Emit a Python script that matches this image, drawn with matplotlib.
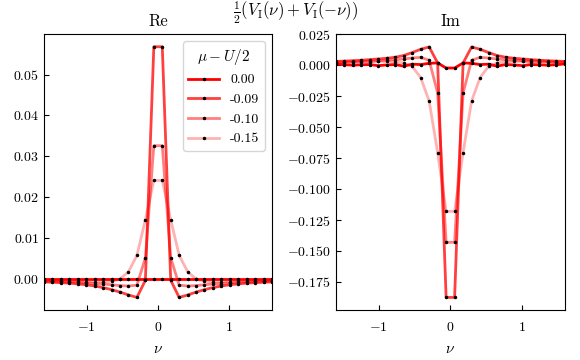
import numpy as np
import matplotlib
matplotlib.use("Agg")
import matplotlib.pyplot as plt

plt.rcParams['font.family'] = 'serif'
plt.rcParams['font.serif'] = ['cmr10']
plt.rcParams['mathtext.fontset'] = 'cm'
plt.rcParams['axes.formatter.use_mathtext'] = True
plt.rcParams['axes.unicode_minus'] = True

# Matsubara frequencies (beta ~ 53)
beta = 53.0
n = np.arange(0, 15)
nu_pos = (2 * n + 1) * np.pi / beta

labels = ["0.00", "-0.09", "-0.10", "-0.15"]
alphas = [1.0, 0.75, 0.5, 0.3]

# real part, positive frequencies (symmetric in nu)
re_000 = [0.0, 0.0, 0.0, 0.0, 0.0, 0.0, 0.0, 0.0, 0.0, 0.0, 0.0, 0.0, 0.0, 0.0, 0.0]
re_009 = [0.0568, -0.0003, -0.0045, -0.0039, -0.0032, -0.0026, -0.0021, -0.0017,
          -0.0014, -0.0012, -0.0010, -0.0009, -0.0008, -0.0007, -0.0006]
re_010 = [0.0326, 0.0052, -0.0015, -0.0017, -0.0016, -0.0014, -0.0012, -0.0011,
          -0.0009, -0.0008, -0.0007, -0.0006, -0.0005, -0.0005, -0.0004]
re_015 = [0.0241, 0.0145, 0.0058, 0.0018, 0.0000, -0.0005, -0.0007, -0.0007,
          -0.0007, -0.0006, -0.0006, -0.0005, -0.0005, -0.0004, -0.0004]

# imaginary part
im_000 = [-0.0023, 0.0018, 0.0015, 0.0005, 0.0008, -0.0008, 0.0005, 0.0002,
          -0.0004, 0.0005, 0.0003, 0.0000, 0.0004, 0.0010, 0.0012]
im_009 = [-0.1875, 0.0018, 0.0147, 0.0128, 0.0102, 0.0078, 0.0064, 0.0056,
          0.0050, 0.0045, 0.0040, 0.0036, 0.0033, 0.0030, 0.0028]
im_010 = [-0.143, -0.0225, 0.0040, 0.0063, 0.0058, 0.0050, 0.0045, 0.0040,
          0.0036, 0.0032, 0.0030, 0.0028, 0.0026, 0.0024, 0.0022]
im_015 = [-0.118, -0.0705, -0.029, -0.0100, -0.0010, 0.0018, 0.0028, 0.0030,
          0.0030, 0.0028, 0.0026, 0.0024, 0.0022, 0.0020, 0.0020]

re_all = [re_000, re_009, re_010, re_015]
im_all = [im_000, im_009, im_010, im_015]


def sym(vals):
    v = np.array(vals)
    return np.concatenate([v[::-1], v])


nu = np.concatenate([-nu_pos[::-1], nu_pos])

fig = plt.figure(figsize=(5.8, 3.6), dpi=100)
ax1 = fig.add_axes([0.076, 0.139, 0.393, 0.766])
ax2 = fig.add_axes([0.579, 0.139, 0.395, 0.766])

for ax, data in [(ax1, re_all), (ax2, im_all)]:
    for lab, a, vals in zip(labels, alphas, data):
        ax.plot(nu, sym(vals), color=(1, 0, 0, a), lw=2, marker='.',
                ms=3, mfc='k', mec='k', label=lab)
    ax.set_xlim(-1.6, 1.6)
    ax.set_xlabel(r"$\nu$", fontsize=11, labelpad=6)
    ax.tick_params(direction='in', labelsize=10)
    ax.tick_params(axis='x', pad=8)

ax1.set_title("Re", fontsize=12)
ax2.set_title("Im", fontsize=12)
ax2.set_yticks([0.025, 0.0, -0.025, -0.05, -0.075, -0.1, -0.125, -0.15, -0.175])

leg = ax1.legend(title=r"$\mu - U/2$", loc='upper right', fontsize=10,
                 title_fontsize=11, handlelength=2.2)

fig.text(0.51, 0.965, r"$\frac{1}{2}(V_{\mathrm{I}}(\nu)+V_{\mathrm{I}}(-\nu))$",
         ha='center', va='center', fontsize=12)

fig.savefig("out.png", dpi=100)
